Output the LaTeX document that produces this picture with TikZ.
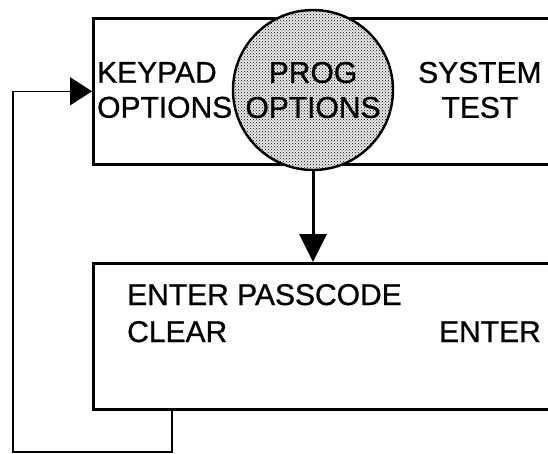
\documentclass[tikz,border=0pt]{standalone}
\usepackage{fontspec}
\setmainfont[FakeBold=0.8]{Liberation Sans}
\usetikzlibrary{arrows.meta,patterns}

\begin{document}
\begin{tikzpicture}[x=1pt,y=-1pt,
  panel/.style={draw,line width=2.6pt,minimum width=520pt,minimum height=146pt,anchor=north west,inner sep=0pt},
  screentext/.style={inner sep=0pt,font=\fontsize{30}{35}\selectfont},
  flowarrow/.style={line width=3pt,-{Triangle[width=27pt,length=28pt]}},
  backline/.style={line width=1.4pt,-{Triangle[width=28pt,length=22pt]}}]
  \useasboundingbox (0,0) rectangle (548,454);
  \clip (0,0) rectangle (548,454);
  \node[panel] (menu) at (92,17) {};
  \node[panel] (passcode) at (92,262) {};
  \node[circle,draw,line width=2.4pt,preaction={fill=black!8},pattern=crosshatch dots,minimum size=160pt,inner sep=0pt] (prog) at (313,90) {};
  \node[screentext,align=center] (progtext) at (prog.center) {PROG\\OPTIONS};
  \node[screentext,align=left,anchor=west] (keypad) at (97,90) {KEYPAD\\OPTIONS};
  \node[screentext,align=center,anchor=west] (systest) at (418,90) {SYSTEM\\TEST};
  \node[screentext,anchor=base west] (entercode) at (127,305) {ENTER PASSCODE};
  \node[screentext,anchor=base west] (clear) at (127,342) {CLEAR};
  \node[screentext,anchor=base east] (enter) at (541,342) {ENTER};
  \coordinate (back) at (172,409);
  \coordinate (loop) at (13,452);
  \draw[flowarrow] (prog.south) -- (prog.south |- passcode.north);
  \draw[backline] (back) |- (loop) |- (menu.west);
\end{tikzpicture}
\end{document}
